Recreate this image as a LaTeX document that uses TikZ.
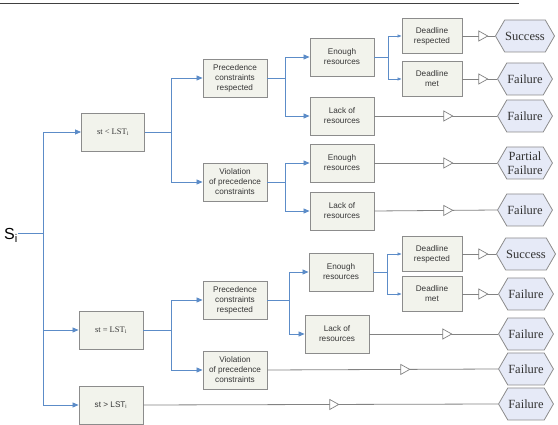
\documentclass[tikz,border=0pt]{standalone}
\usepackage{fontspec}
\setmainfont{Liberation Serif}
\setsansfont{Liberation Sans}
\usetikzlibrary{arrows.meta,shapes.symbols,decorations.markings}
\definecolor{conblue}{RGB}{92,140,200}
\definecolor{congrey}{RGB}{130,130,130}
\definecolor{boxfill}{RGB}{242,243,236}
\definecolor{boxedge}{RGB}{140,140,140}
\definecolor{hexfill}{RGB}{230,234,247}
\definecolor{txt}{RGB}{55,55,55}
\tikzset{
  box/.style={draw=boxedge, line width=0.9pt, fill=boxfill, minimum width=64pt, minimum height=38pt,
    inner sep=1pt, align=center, text=txt, font=\sffamily\fontsize{8.2}{10}\selectfont},
  dbox/.style={box, minimum width=60pt, minimum height=35pt},
  hex/.style={signal, signal to=west and east, signal pointer angle=120, draw=boxedge, line width=0.8pt,
    fill=hexfill, minimum width=52pt, minimum height=32pt, inner sep=0.5pt, align=center, text=black!80,
    font=\fontsize{12.5}{13.5}\selectfont},
  bl/.style={draw=conblue, line width=0.8pt},
  barr/.style={bl, -{Triangle[length=6pt,width=5pt]}},
  sarr/.style={bl, -{Triangle[length=4pt,width=3pt]}},
  gl/.style={draw=congrey, line width=0.8pt, postaction={decorate, decoration={markings,
    mark=at position #1 with {\arrow{Triangle[length=10pt,width=11pt,fill=white,line width=0.7pt]}}}}},
}
\begin{document}
\begin{tikzpicture}[x=1pt,y=-1pt]
\useasboundingbox (0,0) rectangle (558,425);
\draw[black!75, line width=0.9pt] (0,3) -- (519,3);
% root
\node (Si) [anchor=base west, inner sep=0pt, font=\sffamily\fontsize{16}{16}\selectfont] at (4,240) {S\textsubscript{i}};
\coordinate (trunk) at (43,233);
% level 1
\node[box, minimum width=63pt, font=\fontsize{8.5}{9}\selectfont] (b1) at (113,132) {st < LST\textsubscript{i}};
\node[box, font=\fontsize{8.5}{9}\selectfont] (b2) at (111,330) {st = LST\textsubscript{i}};
\node[box] (b3) at (111,405) {st > LST\textsubscript{i}};
% level 2
\node[box] (p1) at (235,78) {Precedence\\constraints\\respected};
\node[box] (v1) at (235,182) {Violation\\of precedence\\constraints};
\node[box] (p2) at (235,300) {Precedence\\constraints\\respected};
\node[box] (v2) at (235,370) {Violation\\of precedence\\constraints};
% level 3
\node[box] (e1) at (342,57) {Enough\\resources};
\node[box] (l1) at (342,116) {Lack of\\resources};
\node[box] (e2) at (342,163) {Enough\\resources};
\node[box] (l2) at (342,211) {Lack of\\resources};
\node[box] (e3) at (341,272) {Enough\\resources};
\node[box] (l3) at (337,334) {Lack of\\resources};
% level 4
\node[dbox] (d1) at (432,36) {Deadline\\respected};
\node[dbox] (d2) at (432,79) {Deadline\\met};
\node[dbox] (d3) at (432,254) {Deadline\\respected};
\node[dbox] (d4) at (432,294) {Deadline\\met};
% outcomes
\node[hex] (h1) at (525,36) {Success};
\node[hex] (h2) at (525,79) {Failure};
\node[hex] (h3) at (525,116) {Failure};
\node[hex] (h4) at (525,163) {Partial\\Failure};
\node[hex] (h5) at (525,210) {Failure};
\node[hex] (h6) at (526,254) {Success};
\node[hex] (h7) at (526,294) {Failure};
\node[hex] (h8) at (526,334) {Failure};
\node[hex] (h9) at (526,369) {Failure};
\node[hex] (h10) at (526,404) {Failure};
% blue connectors
\draw[bl] (Si.east |- trunk) -- (trunk);
\draw[barr] (trunk) |- (b1.west);
\draw[barr] (trunk) |- (b2.west);
\draw[barr] (trunk) |- (b3.west);
\coordinate (s1) at (171,132);
\draw[bl] (b1.east) -- (s1);
\draw[barr] (s1) |- (p1.west);
\draw[barr] (s1) |- (v1.west);
\coordinate (s2) at (171,330);
\draw[bl] (b2.east) -- (s2);
\draw[barr] (s2) |- (p2.west);
\draw[barr] (s2) |- (v2.west);
\coordinate (s3) at (285,78);
\draw[bl] (p1.east) -- (s3);
\draw[barr] (s3) |- (e1.west);
\draw[barr] (s3) |- (l1.west);
\coordinate (s4) at (285,182);
\draw[bl] (v1.east) -- (s4);
\draw[barr] (s4) |- (e2.west);
\draw[barr] (s4) |- (l2.west);
\coordinate (s5) at (289,300);
\draw[bl] (p2.east) -- (s5);
\draw[barr] (s5) |- (e3.west);
\draw[barr] (s5) |- (l3.west);
\coordinate (s6) at (388,57);
\draw[bl] (e1.east) -- (s6);
\draw[sarr] (s6) |- (d1.west);
\draw[sarr] (s6) |- (d2.west);
\coordinate (s7) at (387,272);
\draw[bl] (e3.east) -- (s7);
\draw[sarr] (s7) |- (d3.west);
\draw[sarr] (s7) |- (d4.west);
% grey connectors
\draw[gl=26pt] (d1.east) -- (h1.west);
\draw[gl=26pt] (d2.east) -- (h2.west);
\draw[gl=79pt] (l1.east) -- (h3.west);
\draw[gl=79pt] (e2.east) -- (h4.west);
\draw[gl=79pt] (l2.east) -- (h5.west);
\draw[gl=26pt] (d3.east) -- (h6.west);
\draw[gl=26pt] (d4.east) -- (h7.west);
\draw[gl=83pt] (l3.east) -- (h8.west);
\draw[gl=143pt] (v2.east) -- (h9.west);
\draw[gl=196pt] (b3.east) -- (h10.west);
\end{tikzpicture}
\end{document}
